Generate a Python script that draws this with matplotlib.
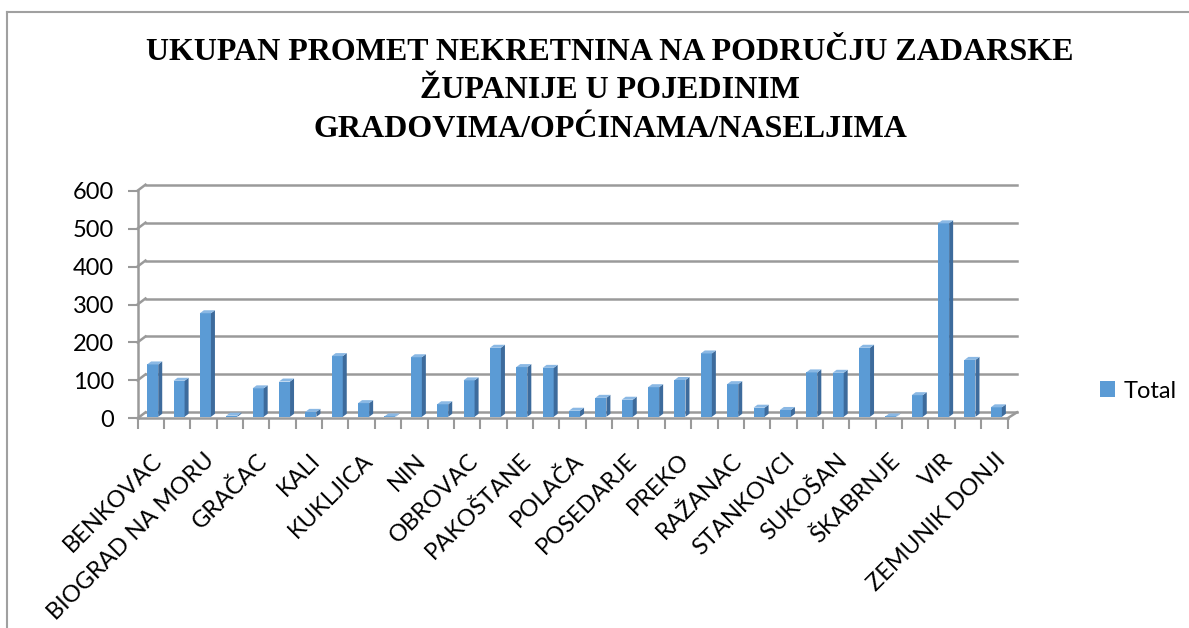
import matplotlib
matplotlib.use('Agg')
import matplotlib.pyplot as plt
from matplotlib.patches import Polygon
from matplotlib.lines import Line2D
import numpy as np

# ---------------- data ----------------
categories = [
    "BENKOVAC", "BIBINJE", "BIOGRAD NA MORU", "GALOVAC", "GRAČAC", "JASENICE",
    "KALI", "KOLAN", "KUKLJICA", "LIŠANE OSTROVIČKE", "NIN", "NOVIGRAD",
    "OBROVAC", "PAG", "PAKOŠTANE", "PAŠMAN", "POLAČA", "POLIČNIK",
    "POSEDARJE", "POVLJANA", "PREKO", "PRIVLAKA", "RAŽANAC", "SALI",
    "STANKOVCI", "STARIGRAD", "SUKOŠAN", "SVETI FILIP I JAKOV", "ŠKABRNJE", "TKON",
    "VIR", "ZADAR", "ZEMUNIK DONJI",
]
values = [
    138, 95, 273, 3, 75, 93,
    13, 160, 36, 1, 157, 33,
    96, 182, 131, 129, 16, 50,
    45, 78, 97, 167, 86, 24,
    18, 117, 116, 182, 1, 57,
    510, 150, 25,
]
series_name = "Total"
y_ticks = [0, 100, 200, 300, 400, 500, 600]
title = ("UKUPAN PROMET NEKRETNINA NA PODRUČJU ZADARSKE\n"
         "ŽUPANIJE U POJEDINIM\n"
         "GRADOVIMA/OPĆINAMA/NASELJIMA")

# ---------------- figure ----------------
FW, FH = 1189, 628
fig = plt.figure(figsize=(FW / 100, FH / 100), dpi=100)
fig.patch.set_facecolor("white")

L, R, B, T = 137.5, 1007.5, 418.3, 190.7
ax = fig.add_axes([L / FW, 1 - B / FH, (R - L) / FW, (B - T) / FH])
n = len(categories)
ymax = y_ticks[-1]
ax.set_xlim(-0.5, n - 0.5)
ax.set_ylim(0, ymax)
ax.patch.set_alpha(0)
for s in ax.spines.values():
    s.set_visible(False)

ux = n / (R - L)          # data units per pixel (x)
uy = ymax / (B - T)       # data units per pixel (y)

gc = "#9a9a9a"
glw = 1.8

# back wall / gridlines (3D look)
dxb, dyb = 8 * ux, 6 * uy
for v in y_ticks:
    ax.add_line(Line2D([-0.5 + dxb, n - 0.5 + dxb + 1.5 * ux], [v + dyb, v + dyb],
                       color=gc, lw=glw, clip_on=False, zorder=1))
    ax.add_line(Line2D([-0.5, -0.5 + dxb], [v, v + dyb],
                       color=gc, lw=glw, clip_on=False, zorder=1))
# right floor edge
ax.add_line(Line2D([n - 0.5, n - 0.5 + dxb + 1.5 * ux], [0, dyb],
                   color=gc, lw=glw, clip_on=False, zorder=4))
# front vertical axis
ax.add_line(Line2D([-0.5, -0.5], [0, ymax], color=gc, lw=glw, clip_on=False, zorder=4))
# front floor
ax.add_line(Line2D([-0.5, n - 0.5], [0, 0], color=gc, lw=glw, clip_on=False, zorder=4))

# ---------------- bars ----------------
front_c = "#5b9bd5"
side_c = "#3d6b9c"
top_c = "#8ab8e4"
x = np.arange(n)
w = 0.42
xoff, yoff = 2 * ux, 1.5 * uy
dxd, dyd = 4 * ux, 3 * uy
bars = ax.bar(x + xoff, values, width=w, bottom=yoff, color=front_c,
              linewidth=0, zorder=3, label=series_name)
for xi, v in zip(x, values):
    x0 = xi + xoff - w / 2
    x1 = xi + xoff + w / 2
    h = yoff + v
    ax.add_patch(Polygon([(x1, yoff), (x1, h), (x1 + dxd, h + dyd), (x1 + dxd, yoff + dyd)],
                         closed=True, facecolor=side_c, edgecolor="none", zorder=3))
    ax.add_patch(Polygon([(x0, h), (x1, h), (x1 + dxd, h + dyd), (x0 + dxd, h + dyd)],
                         closed=True, facecolor=top_c, edgecolor="none", zorder=3))

# ---------------- ticks ----------------
tick_font = "Lato"
ax.set_yticks(y_ticks)
ax.set_yticklabels([str(t) for t in y_ticks], fontfamily=tick_font, fontsize=17)
ax.tick_params(axis="y", length=7, width=1.5, color=gc, pad=10, labelcolor="black")

ax.set_xticks(np.arange(-0.5, n, 1.0))
ax.set_xticklabels([""] * len(np.arange(-0.5, n, 1.0)))
ax.tick_params(axis="x", which="major", length=8, width=1.5, color=gc, direction="out")

ax.set_xticks(x + 0.3, minor=True)
ax.set_xticklabels([c if i % 2 == 0 else "" for i, c in enumerate(categories)], minor=True,
                   fontfamily=tick_font, fontsize=17)
ax.tick_params(axis="x", which="minor", length=0, pad=28)
for lbl in ax.get_xticklabels(minor=True):
    lbl.set_rotation(45)
    lbl.set_ha("right")
    lbl.set_va("center")
    lbl.set_rotation_mode("anchor")

# ---------------- legend ----------------
ax.legend(handles=[bars], loc="center left",
          bbox_to_anchor=(1100 / FW, 1 - 391 / FH), bbox_transform=fig.transFigure,
          frameon=False, handlelength=0.65, handleheight=0.65, handletextpad=0.35,
          borderpad=0, borderaxespad=0, prop={"family": tick_font, "size": 17})

# ---------------- title ----------------
fig.text(610 / FW, 1 - 91 / FH, title, ha="center", va="center",
         fontfamily=["Liberation Serif", "DejaVu Serif"], fontweight="bold",
         fontsize=23, linespacing=1.42)

# ---------------- outer frame ----------------
fig.add_artist(Line2D([7 / FW, 1.0], [1 - 12 / FH, 1 - 12 / FH], transform=fig.transFigure,
                      color="#a0a0a0", lw=1.5))
fig.add_artist(Line2D([7 / FW, 7 / FW], [1 - 12 / FH, 0.0], transform=fig.transFigure,
                      color="#a0a0a0", lw=1.5))

fig.savefig("out.png", dpi=100)
